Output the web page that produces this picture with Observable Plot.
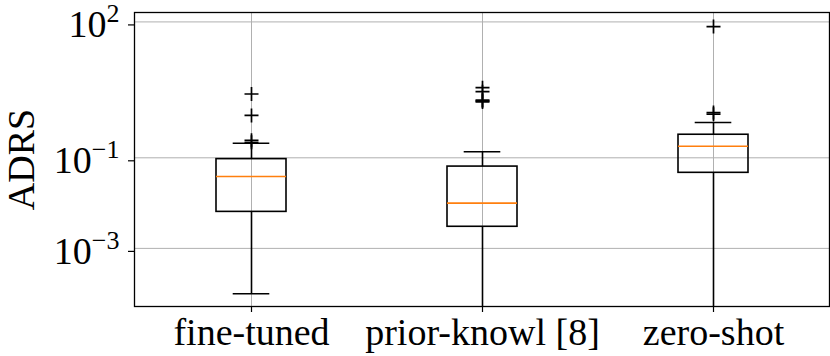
<!DOCTYPE html>
<html>
<head>
<meta charset="utf-8">
<script src="https://cdn.jsdelivr.net/npm/d3@7"></script>
<script src="https://cdn.jsdelivr.net/npm/@observablehq/plot@0.6"></script>
<style>
  html, body { margin: 0; padding: 0; background: #fff; }
  #chart svg { display: block; }
</style>
</head>
<body>
<div id="chart"></div>
<script>
// ---- data ----
const categories = ["fine-tuned", "prior-knowl [8]", "zero-shot"];
const whiskerLow  = [1.0e-4, 1e-5, 1e-5];   // last two fall below the axis
const q1          = [0.0064, 0.0030, 0.0466];
const median      = [0.0386, 0.0100, 0.180];
const q3          = [0.0935, 0.064, 0.323];
const whiskerHigh = [0.21, 0.136, 0.60];
const outliersFineTuned = [2.56, 0.86, 0.244, 0.220];
const outliersPrior     = [3.54, 2.88, 1.89, 1.80, 1.71];
const outliersZeroShot  = [79, 1.0, 0.92];
const yTicks = [1e-3, 1e-1, 1e2];
const yTickExponents = ["\u22123", "\u22121", "2"];
const yLabel = "ADRS";

// ---- tables built from the arrays ----
const boxes = categories.map((c, i) => ({
  cat: c, lo: whiskerLow[i], q1: q1[i], med: median[i], q3: q3[i], hi: whiskerHigh[i]
}));
const outlierLists = [outliersFineTuned, outliersPrior, outliersZeroShot];
const outliers = categories.flatMap((c, i) => outlierLists[i].map(v => ({cat: c, v})));

const plusSymbol = {
  draw(ctx, size) {
    const r = Math.sqrt(size / Math.PI);
    ctx.moveTo(-r, 0); ctx.lineTo(r, 0);
    ctx.moveTo(0, -r); ctx.lineTo(0, r);
  }
};

const fontFamily = "Liberation Serif";

const chart = Plot.plot({
  width: 830,
  height: 356,
  marginLeft: 134,
  marginRight: 1,
  marginTop: 12,
  marginBottom: 50,
  style: {fontFamily, background: "white", color: "black"},
  x: {type: "band", domain: categories, paddingInner: 0.698, paddingOuter: 0.349, label: null},
  y: {type: "log", domain: [Math.pow(10, -4.283), Math.pow(10, 2.208)], label: null},
  marks: [
    Plot.gridY(yTicks, {stroke: "#b0b0b0", strokeOpacity: 1, strokeWidth: 1}),
    Plot.gridX(categories, {stroke: "#b0b0b0", strokeOpacity: 1, strokeWidth: 1}),
    // whiskers
    Plot.ruleX(boxes, {x: "cat", y1: "q3", y2: "hi", stroke: "black", strokeWidth: 1.6, clip: true}),
    Plot.ruleX(boxes, {x: "cat", y1: "lo", y2: "q1", stroke: "black", strokeWidth: 1.6, clip: true}),
    // caps
    Plot.tickY(boxes, {x: "cat", y: "hi", stroke: "black", strokeWidth: 1.6, insetLeft: 16.7, insetRight: 16.7, clip: true}),
    Plot.tickY(boxes, {x: "cat", y: "lo", stroke: "black", strokeWidth: 1.6, insetLeft: 16.7, insetRight: 16.7, clip: true}),
    // boxes
    Plot.barY(boxes, {x: "cat", y1: "q1", y2: "q3", fill: "none", stroke: "black", strokeWidth: 1.6}),
    // medians
    Plot.tickY(boxes, {x: "cat", y: "med", stroke: "#ff7f0e", strokeWidth: 1.6}),
    // outliers
    Plot.dot(outliers, {x: "cat", y: "v", symbol: plusSymbol, r: 7, stroke: "black", fill: "none", strokeWidth: 1.7}),
    Plot.frame({stroke: "black", strokeWidth: 1.3}),
    Plot.axisX({tickSize: 6, tickPadding: 6, fontSize: 38, stroke: "black", strokeWidth: 1.2}),
    Plot.axisY({ticks: yTicks, tickFormat: (d) => yTickExponents[yTicks.indexOf(d)],
      tickSize: 6, tickPadding: 9, fontSize: 38, dy: 3, stroke: "black", strokeWidth: 1.2}),
    Plot.text([yLabel], {frameAnchor: "left", textAnchor: "middle", lineAnchor: "middle",
      dx: -113, rotate: -90, fontSize: 38, fill: "black"})
  ]
});

// turn y tick labels into 10 with a superscript exponent
const ns = "http://www.w3.org/2000/svg";
chart.querySelectorAll('g[aria-label="y-axis tick label"] text').forEach(t => {
  const exp = t.textContent;
  t.textContent = "";
  const base = document.createElementNS(ns, "tspan");
  base.textContent = "10";
  const sup = document.createElementNS(ns, "tspan");
  sup.textContent = exp;
  sup.setAttribute("font-size", "26");
  sup.setAttribute("dy", "-15");
  t.appendChild(base);
  t.appendChild(sup);
});

document.getElementById("chart").appendChild(chart);
</script>
</body>
</html>
